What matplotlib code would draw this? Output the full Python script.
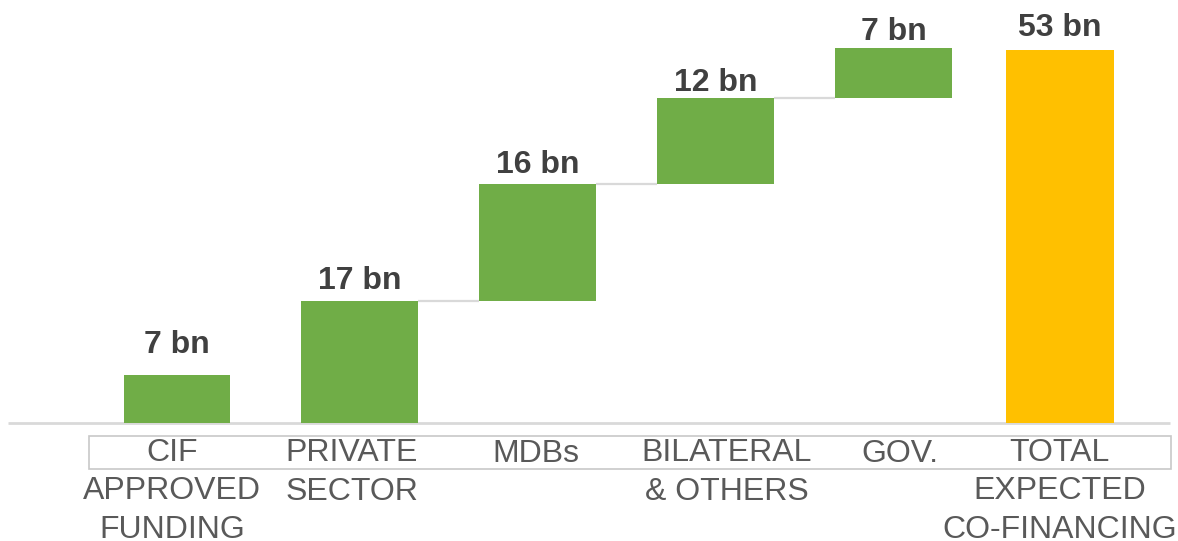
import matplotlib
matplotlib.use("Agg")
import matplotlib.pyplot as plt
from matplotlib.patches import Rectangle

categories = ["CIF\nAPPROVED\nFUNDING", "PRIVATE\nSECTOR", "MDBs",
              "BILATERAL\n& OTHERS", "GOV.", "TOTAL\nEXPECTED\nCO-FINANCING"]
values = [6.75, 17.3, 16.6, 12.3, 7.1, 53.0]
value_labels = ["7 bn", "17 bn", "16 bn", "12 bn", "7 bn", "53 bn"]

GREEN = "#70AD47"
GOLD = "#FFC000"
W, H, DPI = 1178, 541, 100

fig = plt.figure(figsize=(W / DPI, H / DPI), dpi=DPI)
ax = fig.add_axes([0, 0, 1, 1])
ax.axis("off")

# pixel <-> data mapping
x0_px, dx_px = 181.5, 178.0
base_px, scale = 422.5, 7.03
ax.set_xlim((0 - x0_px) / dx_px, (W - x0_px) / dx_px)
ax.set_ylim(-(H - base_px) / scale, base_px / scale)

def px_x(p):
    return (p - x0_px) / dx_px

def px_y(p):
    return (base_px - p) / scale

widths = [0.596, 0.66, 0.66, 0.66, 0.66, 0.607]
x_shift = [-0.025, 0, 0, 0, 0, -0.065]
label_pad = [22, 12, 11, 7, 8, 14]      # px gap above bar
cat_dx = [-5, -8, -2, 11, 6, 0]         # px horizontal nudge of category labels

# bottoms: CIF standalone, then waterfall of contributions, then total
bottoms = [0.0]
cum = 0.0
for v in values[1:-1]:
    bottoms.append(cum)
    cum += v
bottoms.append(0.0)
colors = [GREEN] * 5 + [GOLD]

xs = [i + s for i, s in enumerate(x_shift)]

# baseline
ax.plot([px_x(8), px_x(1170)], [0, 0], color="#d9d9d9", lw=2, zorder=1,
        solid_capstyle="butt")

ax.bar(xs, values, bottom=bottoms, width=widths, color=colors,
       zorder=3, linewidth=0)

# connectors between waterfall steps
for i in range(1, 4):
    top = bottoms[i] + values[i]
    ax.plot([xs[i] + widths[i] / 2, xs[i + 1] - widths[i + 1] / 2], [top, top],
            color="#d9d9d9", lw=1.6, zorder=2, solid_capstyle="butt")

# value labels
for i, (x, b, v, lab) in enumerate(zip(xs, bottoms, values, value_labels)):
    ax.text(x, b + v + label_pad[i] / scale, lab, ha="center", va="baseline",
            fontsize=23, fontweight="bold", color="#404040",
            family="Liberation Sans", zorder=4)

# category label box
box_l, box_r, box_t, box_b = 89, 1171, 435.5, 469
ax.add_patch(Rectangle((px_x(box_l), px_y(box_b)),
                       px_x(box_r) - px_x(box_l), px_y(box_t) - px_y(box_b),
                       facecolor="none", edgecolor="#c8c8c8", lw=1.2, zorder=2))

line_px = 38.0
for x, cat, d in zip(xs, categories, cat_dx):
    n = cat.count("\n")
    ax.text(x + d / dx_px, px_y(462 + n * line_px), cat, ha="center",
            va="baseline", fontsize=23, color="#595959",
            family="Liberation Sans", linespacing=1.37,
            multialignment="center", zorder=4)

fig.savefig("out.png", dpi=DPI)
